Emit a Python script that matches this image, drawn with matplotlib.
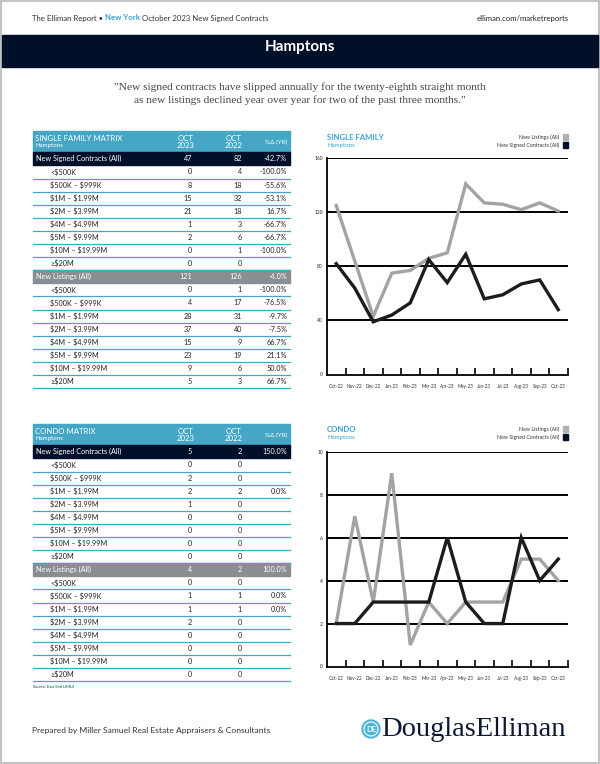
import matplotlib.pyplot as plt
from matplotlib.patches import Rectangle, Circle
import numpy as np

plt.rcParams['font.family'] = ['Lato', 'DejaVu Sans']

# ---- data ----
months = ['Oct-22', 'Nov-22', 'Dec-22', 'Jan-23', 'Feb-23', 'Mar-23', 'Apr-23',
          'May-23', 'Jun-23', 'Jul-23', 'Aug-23', 'Sep-23', 'Oct-23']
sf_listings = [125, 84, 43, 75, 77, 86, 90, 141, 127, 126, 122, 127, 121]
sf_signed = [82, 64, 39, 44, 53, 85, 68, 89, 56, 59, 67, 70, 48]
condo_listings = [2, 7, 3, 9, 1, 3, 2, 3, 3, 3, 5, 5, 4]
condo_signed = [2, 2, 3, 3, 3, 3, 6, 3, 2, 2, 6, 4, 5]

price_ranges = ['<$500K', '$500K – $999K', '$1M – $1.99M', '$2M – $3.99M',
                '$4M – $4.99M', '$5M – $9.99M', '$10M – $19.99M', '≥$20M']
sf_signed_2023 = [0, 8, 15, 21, 1, 2, 0, 0]
sf_signed_2022 = [4, 18, 32, 18, 3, 6, 1, 0]
sf_list_2023 = [0, 4, 28, 37, 15, 23, 9, 5]
sf_list_2022 = [1, 17, 31, 40, 9, 19, 6, 3]
condo_signed_2023 = [0, 2, 2, 1, 0, 0, 0, 0]
condo_signed_2022 = [0, 0, 2, 0, 0, 0, 0, 0]
condo_list_2023 = [0, 1, 1, 2, 0, 0, 0, 0]
condo_list_2022 = [0, 1, 1, 0, 0, 0, 0, 0]

NAVY = '#020f29'
BLUE = '#45a6c6'
TXTBLUE = '#3aa3d3'
GRAYROW = '#898e93'
LINEGRAY = '#a3a3a3'
LINEDARK = '#1c1c1c'

W, H = 600, 764
fig = plt.figure(figsize=(6, 7.64), dpi=100)
page = fig.add_axes([0, 0, 1, 1])
page.set_xlim(0, W)
page.set_ylim(H, 0)
page.axis('off')

# page frame
page.add_patch(Rectangle((1, 1), W - 2, H - 2, fill=False, ec='#c4c4c4', lw=1.5))

# header line (pieces chained one after another)
t1 = page.text(32, 18, 'The Elliman Report • ', fontsize=5.6, color='#333333', va='center')
t2 = page.annotate('New York', xy=(1, 0.5), xycoords=t1, fontsize=5.6, color=TXTBLUE,
                   va='center', fontweight='bold')
page.annotate(' October 2023 New Signed Contracts', xy=(1, 0.5), xycoords=t2, fontsize=5.6,
              color='#333333', va='center')
page.text(569, 18, 'elliman.com/marketreports', fontsize=5.6, color='#222222',
          va='center', ha='right')

# banner
page.add_patch(Rectangle((2, 35), W - 4, 32, color=NAVY))
page.text(300, 47.5, 'Hamptons', fontsize=11, color='white', fontweight='bold',
          ha='center', va='center')

# quote
page.text(300, 87, '"New signed contracts have slipped annually for the twenty-eighth straight month',
          fontsize=8.2, family='Liberation Serif', color='#444444', ha='center', va='center')
page.text(300, 100, 'as new listings declined year over year for two of the past three months."',
          fontsize=8.2, family='Liberation Serif', color='#444444', ha='center', va='center')


def pct(a, b):
    if b == 0:
        return ''
    return f'{(a - b) / b * 100:.1f}%'


def draw_table(top, title, s23, s22, l23, l22):
    left, right = 32.5, 290
    hh, rh = 21.3, 13.1
    c1, c2, c3 = 192, 242, 287
    page.add_patch(Rectangle((left, top), right - left, hh, color=BLUE))
    page.text(35, top + 7.5, title, fontsize=5.6, color='white', va='center')
    page.text(35, top + 14.5, 'Hamptons', fontsize=4.4, color='white', va='center')
    for x, yr in [(186, '2023'), (234, '2022')]:
        page.text(x, top + 7.5, 'OCT', fontsize=5.6, color='white', ha='center', va='center')
        page.text(x, top + 14.5, yr, fontsize=5.6, color='white', ha='center', va='center')
    page.text(c3, top + 11, '%Δ (YR)', fontsize=4.6, color='white', ha='right', va='center')

    y = top + hh
    groups = [('New Signed Contracts (All)', NAVY, s23, s22),
              ('New Listings (All)', GRAYROW, l23, l22)]
    for name, col, a, b in groups:
        page.add_patch(Rectangle((left, y), right - left, rh, color=col))
        ta, tb = sum(a), sum(b)
        page.text(36, y + rh / 2, name, fontsize=5.2, color='white', va='center')
        page.text(c1, y + rh / 2, str(ta), fontsize=5.2, color='white', va='center', ha='right')
        page.text(c2, y + rh / 2, str(tb), fontsize=5.2, color='white', va='center', ha='right')
        page.text(c3, y + rh / 2, pct(ta, tb), fontsize=5.2, color='white', va='center', ha='right')
        y += rh
        for lab, va_, vb in zip(price_ranges, a, b):
            page.text(50, y + rh / 2, lab, fontsize=5.2, color='#222222', va='center',
                      parse_math=False)
            page.text(c1, y + rh / 2, str(va_), fontsize=5.2, color='#222222', va='center', ha='right')
            page.text(c2, y + rh / 2, str(vb), fontsize=5.2, color='#222222', va='center', ha='right')
            page.text(c3, y + rh / 2, pct(va_, vb), fontsize=5.2, color='#222222', va='center', ha='right')
            y += rh
            page.plot([left, right], [y, y], color=BLUE, lw=0.9)
    return y


draw_table(131, 'SINGLE FAMILY MATRIX', sf_signed_2023, sf_signed_2022, sf_list_2023, sf_list_2022)
end = draw_table(424, 'CONDO MATRIX', condo_signed_2023, condo_signed_2022, condo_list_2023, condo_list_2022)
page.text(33, end + 6, 'Source: East End LIMLS', fontsize=2.9, color='#333333', va='center')


def draw_chart(x0, x1, y0, y1, listings, signed, ymax, step, title, ty):
    ax = fig.add_axes([x0 / W, 1 - y1 / H, (x1 - x0) / W, (y1 - y0) / H])
    ax.patch.set_alpha(0)
    x = np.arange(len(months))
    ax.plot(x, listings, color=LINEGRAY, lw=2.4, solid_joinstyle='miter', zorder=3)
    ax.plot(x, signed, color=LINEDARK, lw=2.4, solid_joinstyle='miter', zorder=4)
    ax.set_xlim(-0.5, len(months) - 0.5)
    ax.set_ylim(0, ymax)
    yt = np.arange(0, ymax + step, step)
    ax.set_yticks(yt)
    ax.set_yticklabels([str(int(v)) for v in yt])
    for v in yt[1:]:
        ax.axhline(v, color='black', lw=1.4, zorder=2)
    ax.set_xticks(x)
    ax.set_xticklabels(months)
    ax.set_xticks(list(x + 0.5), minor=True)
    ax.tick_params(axis='x', which='major', length=0, pad=7, labelsize=3.3, labelcolor='#333333')
    ax.tick_params(axis='x', which='minor', direction='in', length=5, width=1.2)
    ax.tick_params(axis='y', length=0, pad=3, labelsize=3.5, labelcolor='#222222')
    for s in ['top', 'right']:
        ax.spines[s].set_visible(False)
    ax.spines['left'].set_linewidth(1.3)
    ax.spines['bottom'].set_linewidth(1.3)

    page.text(x0, ty, title, fontsize=5.6, color=TXTBLUE, fontweight='bold', va='center')
    page.text(x0, ty + 8, 'Hamptons', fontsize=4.4, color=TXTBLUE, va='center')
    page.text(559, ty, 'New Listings (All)', fontsize=3.8, color='#333333', ha='right', va='center')
    page.text(559, ty + 8, 'New Signed Contracts (All)', fontsize=3.8, color='#333333', ha='right', va='center')
    page.add_patch(Rectangle((563, ty - 2.6), 5.2, 5.2, color='#b2b2b2'))
    page.add_patch(Rectangle((563, ty + 5.4), 5.2, 5.2, color=NAVY))


draw_chart(327, 567.5, 158.3, 374.5, sf_listings, sf_signed, 160, 40, 'SINGLE FAMILY', 137)
draw_chart(327, 567.5, 451.7, 666.5, condo_listings, condo_signed, 10, 2, 'CONDO', 429)

# footer
page.text(32, 730, 'Prepared by Miller Samuel Real Estate Appraisers & Consultants',
          fontsize=6.1, color='#333333', va='center')
page.add_patch(Circle((371, 729), 9, color='#4fb2d8'))
page.add_patch(Circle((371, 729), 7, fill=False, ec='white', lw=0.8))
page.text(371, 729.3, 'DE', fontsize=5.5, color='white', fontweight='bold', ha='center', va='center')
page.text(381, 729, 'DouglasElliman', fontsize=20.5, family='Liberation Serif',
          color='#0c1733', va='center')

fig.savefig('out.png', dpi=100)
